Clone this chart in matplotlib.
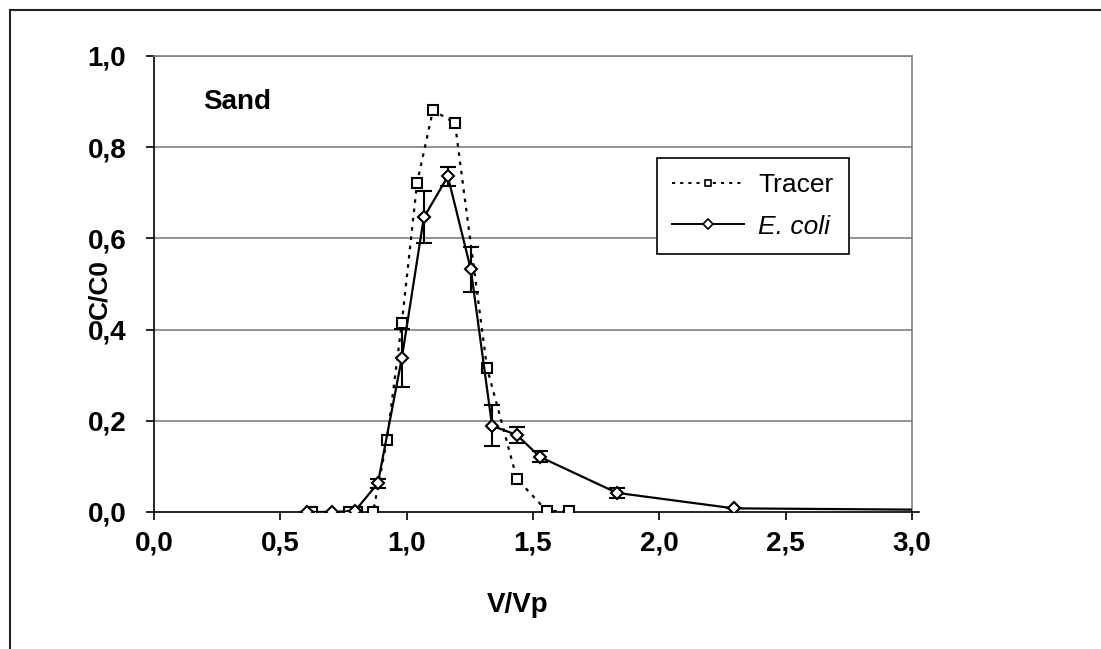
import matplotlib
matplotlib.use("Agg")
import matplotlib.pyplot as plt
from matplotlib.lines import Line2D

plt.rcParams['font.family'] = ['Liberation Sans', 'DejaVu Sans']

# Tracer data
tracer_x = [0.625, 0.772, 0.803, 0.867, 0.922, 0.981, 1.041, 1.104, 1.191, 1.318, 1.436, 1.555, 1.642]
tracer_y = [0.0, 0.0, 0.0, 0.0, 0.158, 0.415, 0.721, 0.881, 0.853, 0.316, 0.073, 0.002, 0.002]

# E. coli data
ecoli_x = [0.605, 0.704, 0.795, 0.886, 0.981, 1.068, 1.163, 1.254, 1.338, 1.436, 1.527, 1.832, 2.295, 3.05]
ecoli_y = [0.0, 0.0, 0.002, 0.063, 0.338, 0.646, 0.736, 0.532, 0.189, 0.169, 0.121, 0.042, 0.008, 0.005]
ecoli_err = [0.0, 0.0, 0.0, 0.01, 0.063, 0.057, 0.02, 0.05, 0.045, 0.018, 0.012, 0.011, 0.0, 0.0]

x_ticks = [0.0, 0.5, 1.0, 1.5, 2.0, 2.5, 3.0]
y_ticks = [0.0, 0.2, 0.4, 0.6, 0.8, 1.0]
x_labels = ["0,0", "0,5", "1,0", "1,5", "2,0", "2,5", "3,0"]
y_labels = ["0,0", "0,2", "0,4", "0,6", "0,8", "1,0"]

FS = 20
W, H = 1101, 649
L, R, T, B = 154, 912, 56, 512

fig = plt.figure(figsize=(W/100, H/100), dpi=100)
ax = fig.add_axes([L/W, 1-B/H, (R-L)/W, (B-T)/H])

def ax_coords(px, py):
    return (px - L) / (R - L), (B - py) / (B - T)

# outer chart frame (top and left visible)
fig.add_artist(Line2D([10/W, 1.0], [1-10/H, 1-10/H], color='#222222', lw=1.5, transform=fig.transFigure))
fig.add_artist(Line2D([10/W, 10/W], [0.0, 1-10/H], color='#222222', lw=1.5, transform=fig.transFigure))
# x axis line slightly overshooting the plot area, as in the reference
fig.add_artist(Line2D([R/W, 919/W], [1-B/H, 1-B/H], color='black', lw=1.2, transform=fig.transFigure))

ax.set_xlim(0, 3.0)
ax.set_ylim(0, 1.0)
for y in y_ticks[1:]:
    ax.axhline(y, color='#808080', lw=1.2, zorder=0)

dotted = (0, (1.6, 2.6))
ax.plot(tracer_x, tracer_y, linestyle=dotted, color='black', lw=1.6,
        marker='s', markersize=7.5, markerfacecolor='white', markeredgecolor='black',
        markeredgewidth=1.5, label='Tracer', zorder=3)
ax.errorbar(ecoli_x, ecoli_y, yerr=ecoli_err, color='black', lw=1.6,
            marker='D', markersize=6.5, markerfacecolor='white', markeredgecolor='black',
            markeredgewidth=1.5, ecolor='black', elinewidth=1.5, capsize=6, capthick=1.5,
            label='E. coli', zorder=4)

ax.set_xticks(x_ticks)
ax.set_xticklabels(x_labels, fontsize=FS, fontweight='bold')
ax.set_yticks(y_ticks)
ax.set_yticklabels(y_labels, fontsize=FS, fontweight='bold')
ax.tick_params(axis='both', direction='out', length=6, width=1.2, color='black')
ax.tick_params(axis='x', pad=7)
ax.tick_params(axis='y', pad=14)

ax.spines['top'].set_color('#808080')
ax.spines['right'].set_color('#808080')
ax.spines['left'].set_color('black')
ax.spines['bottom'].set_color('black')
for s in ax.spines.values():
    s.set_linewidth(1.2)

xl = ax_coords(518, 605)
ax.text(xl[0], xl[1], 'V/Vp', fontsize=FS, fontweight='bold', ha='center', va='center',
        transform=ax.transAxes)
yl = ax_coords(99, 289)
ax.text(yl[0], yl[1], 'C/C0', fontsize=FS - 1, fontweight='bold', ha='center', va='center',
        rotation=90, transform=ax.transAxes)

sp = ax_coords(203, 102)
ax.text(sp[0], sp[1], 'Sand', fontsize=FS, fontweight='bold', va='center', ha='left',
        transform=ax.transAxes)

handles = [
    Line2D([], [], linestyle=dotted, color='black', lw=1.4, marker='s', markersize=5,
           markerfacecolor='white', markeredgecolor='black', markeredgewidth=1.2),
    Line2D([], [], linestyle='-', color='black', lw=1.4, marker='D', markersize=5,
           markerfacecolor='white', markeredgecolor='black', markeredgewidth=1.2),
]
lg = ax_coords(657, 158)
leg = ax.legend(handles, ['Tracer', 'E. coli'], loc='upper left',
                bbox_to_anchor=lg, fontsize=FS - 1,
                frameon=True, fancybox=False, edgecolor='black', framealpha=1,
                handlelength=2.7, borderpad=0.58, labelspacing=0.66, handletextpad=0.55,
                borderaxespad=0)
leg.get_frame().set_linewidth(1.2)
leg.get_texts()[1].set_fontstyle('italic')

fig.savefig('out.png', dpi=100)
